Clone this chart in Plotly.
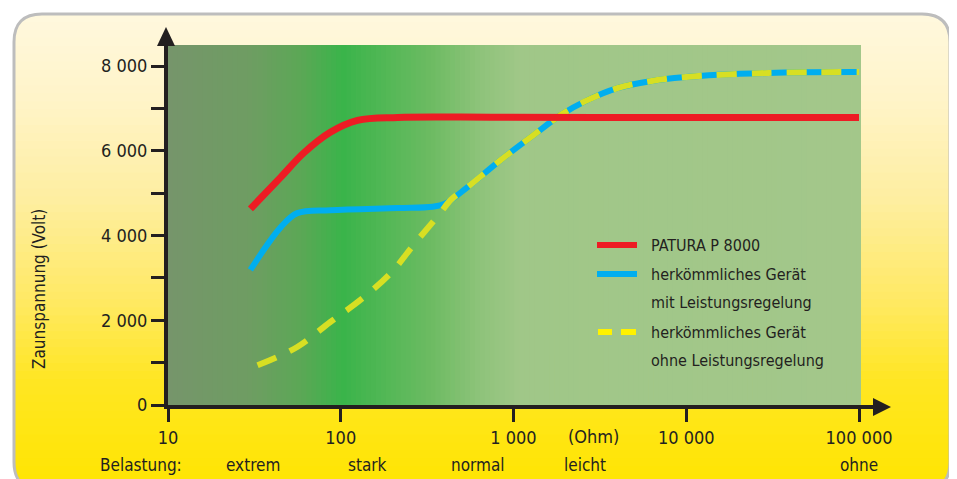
import math
import plotly.graph_objects as go

# ---------------- data ----------------
patura_x = [30, 45, 61, 87, 125, 214, 736, 3000, 20000, 100000]
patura_y = [4630, 5380, 5950, 6440, 6720, 6790, 6795, 6790, 6790, 6790]

mit_x = [30, 45, 56, 87, 214, 340, 400, 542, 841, 1306, 1871, 2680, 3992, 6196, 9616, 30000, 100000]
mit_y = [3190, 4200, 4530, 4600, 4650, 4680, 4750, 5145, 5782, 6372, 6844, 7198, 7481, 7646, 7740, 7840, 7860]

ohne_x = [33, 56, 87, 130, 195, 264, 368, 433, 542, 841, 1306, 1871, 2680, 3992, 6196, 9616, 30000, 100000]
ohne_y = [940, 1370, 1960, 2480, 3115, 3780, 4480, 4840, 5145, 5782, 6372, 6844, 7198, 7481, 7646, 7740, 7840, 7860]

series_names = ["PATURA P 8000",
                "herkömmliches Gerät",
                "mit Leistungsregelung",
                "herkömmliches Gerät",
                "ohne Leistungsregelung"]

x_tickvals = [10, 100, 1000, 10000, 100000]
x_ticktext = ["10", "100", "1 000", "10 000", "100 000"]
y_tickvals = [0, 1000, 2000, 3000, 4000, 5000, 6000, 7000, 8000]
y_ticktext = ["0", "", "2 000", "", "4 000", "", "6 000", "", "8 000"]

load_labels = ["extrem", "stark", "normal", "leicht", "ohne"]
load_resist = [31, 143, 620, 2600, 100000]

# ---------------- layout helpers ----------------
OX, OY = 8, 8                 # page body margin of the browser
W, H = 957 - OX, 479 - OY
L, R, T, B = 168, 861, 45, 405   # plot area in screen pixels
PW, PH = R - L, B - T
FONT = "Liberation Sans Narrow, DejaVu Sans Condensed, Roboto, sans-serif"
INK = "#231F20"


def px(x):
    return (x - L) / PW


def py(y):
    return (B - y) / PH


def lerp_color(stops, v):
    for (a, ca), (b, cb) in zip(stops, stops[1:]):
        if a <= v <= b:
            t = (v - a) / (b - a) if b > a else 0
            c = [round(ca[i] + (cb[i] - ca[i]) * t) for i in range(3)]
            return "rgb(%d,%d,%d)" % tuple(c)
    c = stops[-1][1] if v > stops[-1][0] else stops[0][1]
    return "rgb(%d,%d,%d)" % tuple(c)


shapes = []

# panel vertical gradient (cream -> yellow)
panel_stops = [(14, (255, 248, 222)), (100, (255, 244, 200)), (200, (254, 238, 160)),
               (300, (255, 233, 100)), (380, (255, 230, 35)), (490, (255, 229, 0))]
top, bot = 14, 490
n = 60
step = (bot - top) / n
for i in range(n):
    y0 = top + i * step
    y1 = y0 + step + 0.8
    shapes.append(dict(type="rect", xref="paper", yref="paper", layer="below",
                       x0=px(14), x1=px(950), y0=py(y0), y1=py(min(y1, bot)),
                       fillcolor=lerp_color(panel_stops, y0 + step / 2), line=dict(width=0)))

# rounded corner masks
r = 28
corners = [
    [(14, 14), (14 + r, 14), (14, 14), (14, 14 + r)],
    [(950, 14), (950 - r, 14), (950, 14), (950, 14 + r)],
    [(950, 490), (950 - r, 490), (950, 490), (950, 490 - r)],
    [(14, 490), (14 + r, 490), (14, 490), (14, 490 - r)],
]
for c0, c1, q, c2 in corners:
    path = "M %f,%f L %f,%f Q %f,%f %f,%f Z" % (px(c0[0]), py(c0[1]), px(c1[0]), py(c1[1]),
                                              px(q[0]), py(q[1]), px(c2[0]), py(c2[1]))
    shapes.append(dict(type="path", xref="paper", yref="paper", layer="below", path=path,
                       fillcolor="white", line=dict(width=0)))

# border
pts = [(14, 14 + r), (14, 14), (14 + r, 14), (950 - r, 14), (950, 14), (950, 14 + r),
       (950, 490 - r), (950, 490), (950 - r, 490), (14 + r, 490), (14, 490), (14, 490 - r)]
P = [(px(a), py(b)) for a, b in pts]
flat = tuple(v for p in P for v in p)
border = ("M %f,%f Q %f,%f %f,%f L %f,%f Q %f,%f %f,%f L %f,%f Q %f,%f %f,%f L %f,%f Q %f,%f %f,%f Z"
          % flat)
shapes.append(dict(type="path", xref="paper", yref="paper", layer="below", path=border,
                   fillcolor="rgba(0,0,0,0)", line=dict(color="#BDBDBD", width=3)))

# plot-area horizontal gradient
plot_stops = [(168, (118, 149, 107)), (250, (110, 157, 98)), (300, (92, 167, 86)),
              (343, (58, 180, 74)), (430, (108, 187, 98)), (480, (142, 195, 122)),
              (520, (160, 199, 136)), (861, (163, 199, 138))]
m = 140
st = PW / m
for i in range(m):
    x0 = L + i * st
    x1 = min(x0 + st + 0.8, R)
    shapes.append(dict(type="rect", xref="paper", yref="paper", layer="below",
                       x0=px(x0), x1=px(x1), y0=0, y1=1,
                       fillcolor=lerp_color(plot_stops, x0 + st / 2), line=dict(width=0)))

# axis arrows
shapes.append(dict(type="path", xref="paper", yref="paper", layer="above", fillcolor=INK,
                   line=dict(width=0),
                   path="M %f,%f L %f,%f L %f,%f L %f,%f L %f,%f L %f,%f L %f,%f Z" % (
                       px(858), py(405), px(873), py(405), px(873), py(398), px(891), py(407),
                       px(873), py(416), px(873), py(409), px(858), py(409))))
shapes.append(dict(type="path", xref="paper", yref="paper", layer="above", fillcolor=INK,
                   line=dict(width=0),
                   path="M %f,%f L %f,%f L %f,%f Z" % (
                       px(157), py(46), px(166), py(27), px(175), py(46))))

# legend samples
shapes.append(dict(type="line", xref="paper", yref="paper", x0=px(597), x1=px(637),
                   y0=py(245), y1=py(245), line=dict(color="#ED1C24", width=6)))
shapes.append(dict(type="line", xref="paper", yref="paper", x0=px(597), x1=px(637),
                   y0=py(274), y1=py(274), line=dict(color="#00AEEF", width=6)))
for a, b in [(598, 612), (621, 636)]:
    shapes.append(dict(type="line", xref="paper", yref="paper", x0=px(a), x1=px(b),
                       y0=py(332), y1=py(332), line=dict(color="#FFF200", width=6)))

annotations = []
legend_y = [245, 274, 302, 332, 360]
for txt, yy in zip(series_names, legend_y):
    annotations.append(dict(text=txt, xref="paper", yref="paper", x=px(649), y=py(yy),
                            xanchor="left", yanchor="middle", showarrow=False,
                            font=dict(family=FONT, size=16, color=INK)))

annotations.append(dict(text="Zaunspannung (Volt)", xref="paper", yref="paper",
                        x=px(39), y=py(289), textangle=-90, showarrow=False,
                        xanchor="center", yanchor="middle",
                        font=dict(family=FONT, size=17, color=INK)))
annotations.append(dict(text="(Ohm)", xref="paper", yref="paper", x=px(593), y=py(437),
                        showarrow=False, xanchor="center", yanchor="middle",
                        font=dict(family=FONT, size=18, color=INK)))
annotations.append(dict(text="Belastung:", xref="paper", yref="paper", x=px(141), y=py(465),
                        showarrow=False, xanchor="center", yanchor="middle",
                        font=dict(family=FONT, size=17, color=INK)))
for txt, rv in zip(load_labels, load_resist):
    annotations.append(dict(text=txt, xref="x", yref="paper", x=math.log10(rv), y=py(465),
                            showarrow=False, xanchor="center", yanchor="middle",
                            font=dict(family=FONT, size=17, color=INK)))

fig = go.Figure()
fig.add_trace(go.Scatter(x=mit_x, y=mit_y, mode="lines", name="mit Leistungsregelung",
                         line=dict(color="#00AEEF", width=6, shape="spline", smoothing=1.0),
                         showlegend=False, hoverinfo="x+y"))
fig.add_trace(go.Scatter(x=ohne_x, y=ohne_y, mode="lines", name="ohne Leistungsregelung",
                         line=dict(color="#D7DF23", width=6, shape="spline", smoothing=1.0,
                                   dash="20px,15px"),
                         showlegend=False, hoverinfo="x+y"))
fig.add_trace(go.Scatter(x=patura_x, y=patura_y, mode="lines", name="PATURA P 8000",
                         line=dict(color="#ED1C24", width=7, shape="spline", smoothing=1.0),
                         showlegend=False, hoverinfo="x+y"))

fig.update_layout(
    width=W, height=H,
    margin=dict(l=L - OX, r=957 - R, t=T - OY, b=479 - B),
    paper_bgcolor="white", plot_bgcolor="rgba(0,0,0,0)",
    showlegend=False,
    shapes=shapes, annotations=annotations,
    font=dict(family=FONT, color=INK),
    xaxis=dict(type="log", range=[1, 5 + 2 / 173], showgrid=False, zeroline=False,
               showline=True, linewidth=4, linecolor=INK,
               ticks="outside", ticklen=13, tickwidth=3, tickcolor=INK,
               tickvals=x_tickvals, ticktext=x_ticktext,
               tickfont=dict(family=FONT, size=18, color=INK)),
    yaxis=dict(range=[0, 8500], showgrid=False, zeroline=False,
               showline=True, linewidth=4, linecolor=INK,
               ticks="outside", ticklen=13, tickwidth=3, tickcolor=INK,
               tickvals=y_tickvals, ticktext=y_ticktext,
               tickfont=dict(family=FONT, size=18, color=INK)),
)

fig.write_html("out.html")
